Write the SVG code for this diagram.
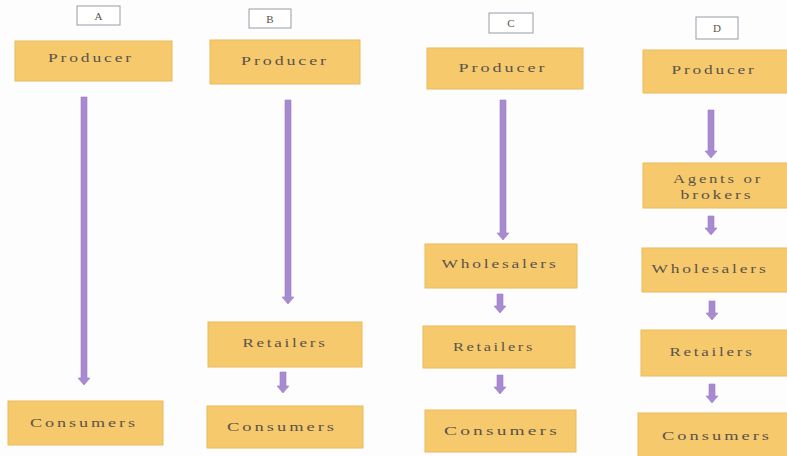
<svg xmlns="http://www.w3.org/2000/svg" width="787" height="456" viewBox="0 0 787 456">
  <style>
    .bg { fill: #fdfdfd; }
    .node rect { fill: #f6c96c; stroke: #eabb5c; stroke-width: 1; }
    .tag rect { fill: #ffffff; stroke: #9a9aa8; stroke-width: 1; }
    text { font-family: "Liberation Serif", "DejaVu Serif", serif; font-size: 13.5px; letter-spacing: 2.2px; fill: #5a534b; text-anchor: middle; }
    .tag text { font-size: 11px; letter-spacing: 0; }
    .arrow { fill: #a88ad0; stroke: #9c7ec6; stroke-width: 0.6; }
  </style>
  <rect class="bg" x="0" y="0" width="787" height="456"/>

  <!-- column tags -->
  <g id="tag-a" class="tag"><rect x="77" y="6" width="43" height="19"/><text x="98.5" y="20">A</text></g>
  <g id="tag-b" class="tag"><rect x="249" y="9" width="42" height="19"/><text x="270" y="23">B</text></g>
  <g id="tag-c" class="tag"><rect x="489" y="13" width="44" height="20"/><text x="511" y="27">C</text></g>
  <g id="tag-d" class="tag"><rect x="696" y="17" width="42" height="22"/><text x="717" y="32">D</text></g>

  <!-- column A -->
  <g id="a-producer" class="node"><rect x="15" y="41" width="157" height="40"/><text x="91" y="62" textLength="86" lengthAdjust="spacingAndGlyphs">Producer</text></g>
  <g id="a-consumers" class="node"><rect x="8" y="401" width="155" height="44"/><text x="84" y="427" textLength="108" lengthAdjust="spacingAndGlyphs">Consumers</text></g>

  <!-- column B -->
  <g id="b-producer" class="node"><rect x="210" y="40" width="150" height="44"/><text x="285" y="65" textLength="88" lengthAdjust="spacingAndGlyphs">Producer</text></g>
  <g id="b-retailers" class="node"><rect x="208" y="322" width="154" height="45"/><text x="285" y="347" textLength="85" lengthAdjust="spacingAndGlyphs">Retailers</text></g>
  <g id="b-consumers" class="node"><rect x="207" y="406" width="156" height="42"/><text x="282" y="431" textLength="110" lengthAdjust="spacingAndGlyphs">Consumers</text></g>

  <!-- column C -->
  <g id="c-producer" class="node"><rect x="427" y="48" width="156" height="41"/><text x="503" y="72" textLength="89" lengthAdjust="spacingAndGlyphs">Producer</text></g>
  <g id="c-wholesalers" class="node"><rect x="425" y="244" width="152" height="44"/><text x="500" y="268" textLength="117" lengthAdjust="spacingAndGlyphs">Wholesalers</text></g>
  <g id="c-retailers" class="node"><rect x="423" y="326" width="152" height="42"/><text x="494" y="351" textLength="82" lengthAdjust="spacingAndGlyphs">Retailers</text></g>
  <g id="c-consumers" class="node"><rect x="425" y="410" width="151" height="42"/><text x="502" y="435" textLength="116" lengthAdjust="spacingAndGlyphs">Consumers</text></g>

  <!-- column D -->
  <g id="d-producer" class="node"><rect x="643" y="50" width="150" height="43"/><text x="714" y="74" textLength="85" lengthAdjust="spacingAndGlyphs">Producer</text></g>
  <g id="d-agents" class="node"><rect x="643" y="163" width="150" height="45"/><text x="718" y="183" textLength="90" lengthAdjust="spacingAndGlyphs">Agents or</text><text x="717" y="199" textLength="73" lengthAdjust="spacingAndGlyphs">brokers</text></g>
  <g id="d-wholesalers" class="node"><rect x="642" y="248" width="150" height="44"/><text x="710" y="273" textLength="117" lengthAdjust="spacingAndGlyphs">Wholesalers</text></g>
  <g id="d-retailers" class="node"><rect x="641" y="330" width="150" height="46"/><text x="712" y="356" textLength="85" lengthAdjust="spacingAndGlyphs">Retailers</text></g>
  <g id="d-consumers" class="node"><rect x="638" y="413" width="155" height="45"/><text x="717" y="440" textLength="110" lengthAdjust="spacingAndGlyphs">Consumers</text></g>

  <!-- connectors: block arrows (shaft 6px, head 12px wide) -->
  <g id="connectors" class="arrow">
    <path d="M81,97 H87 V378 H90 L84,385 L78,378 H81 Z"/>
    <path d="M285,100 H291 V297 H294 L288,304 L282,297 H285 Z"/>
    <path d="M280,372 H286 V386 H289 L283,393 L277,386 H280 Z"/>
    <path d="M500,100 H506 V233 H509 L503,240 L497,233 H500 Z"/>
    <path d="M497,294 H503 V306 H506 L500,313 L494,306 H497 Z"/>
    <path d="M497,375 H503 V387 H506 L500,394 L494,387 H497 Z"/>
    <path d="M708,110 H714 V151 H717 L711,158 L705,151 H708 Z"/>
    <path d="M708,216 H714 V228 H717 L711,235 L705,228 H708 Z"/>
    <path d="M709,301 H715 V313 H718 L712,320 L706,313 H709 Z"/>
    <path d="M709,384 H715 V396 H718 L712,403 L706,396 H709 Z"/>
  </g>
</svg>
